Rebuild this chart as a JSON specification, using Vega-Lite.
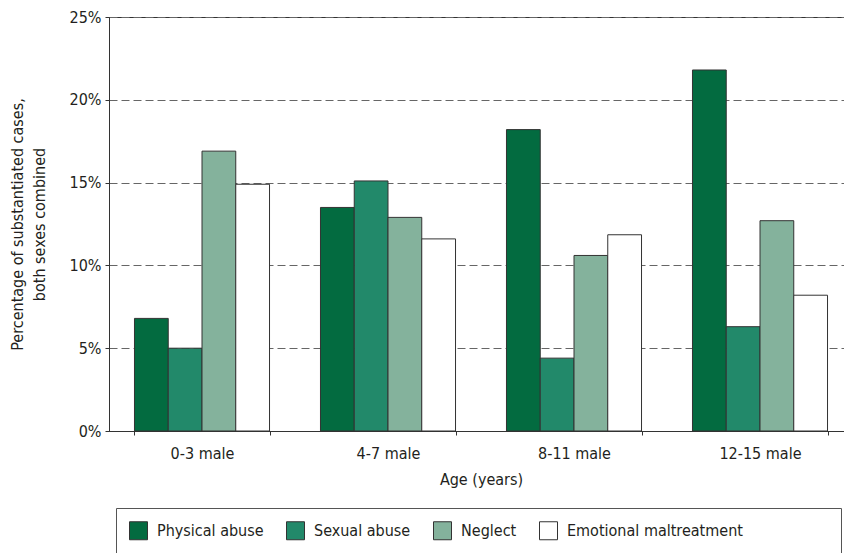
{
  "$schema": "https://vega.github.io/schema/vega-lite/v6.json",
  "autosize": {"type": "none"},
  "padding": {"left": 109, "top": 17, "right": 0, "bottom": 122},
  "width": 735,
  "height": 414,
  "background": "white",
  "config": {
    "font": "DejaVu Sans Condensed, Roboto, sans-serif",
    "view": {"stroke": "#333", "strokeWidth": 1},
    "axis": {
      "labelFont": "DejaVu Sans Condensed, Roboto, sans-serif",
      "titleFont": "DejaVu Sans Condensed, Roboto, sans-serif",
      "labelFontSize": 16,
      "titleFontSize": 16,
      "titleFontWeight": "normal",
      "labelColor": "#231f20",
      "titleColor": "#231f20",
      "domainColor": "#333",
      "tickColor": "#333"
    },
    "legend": {
      "labelFont": "DejaVu Sans Condensed, Roboto, sans-serif",
      "labelFontSize": 16,
      "labelColor": "#231f20"
    }
  },
  "data": {
    "values": [
      {"age": "0-3 male", "type": "Physical abuse", "pct": 6.8},
      {"age": "0-3 male", "type": "Sexual abuse", "pct": 5.0},
      {"age": "0-3 male", "type": "Neglect", "pct": 16.9},
      {"age": "0-3 male", "type": "Emotional maltreatment", "pct": 14.9},
      {"age": "4-7 male", "type": "Physical abuse", "pct": 13.5},
      {"age": "4-7 male", "type": "Sexual abuse", "pct": 15.1},
      {"age": "4-7 male", "type": "Neglect", "pct": 12.9},
      {"age": "4-7 male", "type": "Emotional maltreatment", "pct": 11.6},
      {"age": "8-11 male", "type": "Physical abuse", "pct": 18.2},
      {"age": "8-11 male", "type": "Sexual abuse", "pct": 4.4},
      {"age": "8-11 male", "type": "Neglect", "pct": 10.6},
      {"age": "8-11 male", "type": "Emotional maltreatment", "pct": 11.85},
      {"age": "12-15 male", "type": "Physical abuse", "pct": 21.8},
      {"age": "12-15 male", "type": "Sexual abuse", "pct": 6.3},
      {"age": "12-15 male", "type": "Neglect", "pct": 12.7},
      {"age": "12-15 male", "type": "Emotional maltreatment", "pct": 8.2}
    ]
  },
  "mark": {"type": "bar", "stroke": "#333", "strokeWidth": 1},
  "encoding": {
    "x": {
      "field": "age",
      "type": "nominal",
      "sort": ["0-3 male", "4-7 male", "8-11 male", "12-15 male"],
      "scale": {"range": [0, 744], "paddingInner": 0.274, "paddingOuter": 0.137},
      "axis": {
        "title": "Age (years)",
        "labelAngle": 0,
        "tickBand": "extent",
        "tickSize": 4,
        "labelPadding": 10,
        "titlePadding": 10,
        "grid": false
      }
    },
    "xOffset": {
      "field": "type",
      "type": "nominal",
      "sort": ["Physical abuse", "Sexual abuse", "Neglect", "Emotional maltreatment"],
      "scale": {"paddingInner": 0, "paddingOuter": 0}
    },
    "y": {
      "field": "pct",
      "type": "quantitative",
      "scale": {"domain": [0, 25], "nice": false},
      "axis": {
        "title": ["Percentage of substantiated cases,", "both sexes combined"],
        "values": [0, 5, 10, 15, 20, 25],
        "labelExpr": "datum.value + '%'",
        "tickSize": 4,
        "labelPadding": 4,
        "titlePadding": 22,
        "titleLineHeight": 22,
        "grid": true,
        "gridColor": "#666",
        "gridDash": [8, 4],
        "gridWidth": 1
      }
    },
    "fill": {
      "field": "type",
      "type": "nominal",
      "sort": ["Physical abuse", "Sexual abuse", "Neglect", "Emotional maltreatment"],
      "scale": {
        "domain": ["Physical abuse", "Sexual abuse", "Neglect", "Emotional maltreatment"],
        "range": ["#036b40", "#22896a", "#84b29c", "#ffffff"]
      },
      "legend": {
        "title": null,
        "orient": "none",
        "legendX": 7,
        "legendY": 491,
        "direction": "horizontal",
        "symbolType": "square",
        "symbolSize": 324,
        "symbolStrokeColor": "#333",
        "symbolStrokeWidth": 1,
        "symbolOpacity": 1,
        "labelOffset": 9,
        "labelLimit": 2000,
        "columnPadding": 20,
        "padding": 13,
        "strokeColor": "#555",
        "fillColor": "white",
        "labelExpr": "datum.label == 'Emotional maltreatment' ? datum.label + '\u2800\u2800\u2800\u2800\u2800\u2800\u2800\u2800' : datum.label"
      }
    }
  }
}
